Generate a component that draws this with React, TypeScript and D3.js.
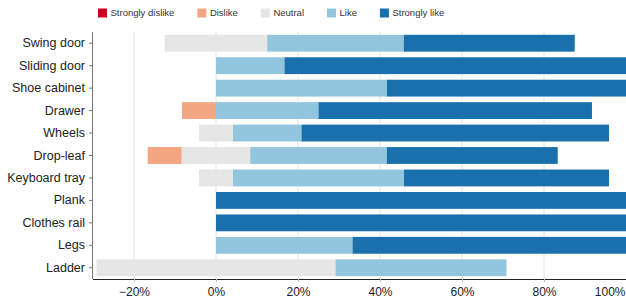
import { useEffect, useRef } from 'react'
import * as d3 from 'd3'

// Furniture feature preferences, % of respondents
const categories = [
  'Swing door',
  'Sliding door',
  'Shoe cabinet',
  'Drawer',
  'Wheels',
  'Drop-leaf',
  'Keyboard tray',
  'Plank',
  'Clothes rail',
  'Legs',
  'Ladder',
]
const levels = ['Strongly dislike', 'Dislike', 'Neutral', 'Like', 'Strongly like']
const colors = ['#ca0020', '#f4a582', '#e6e6e6', '#92c5de', '#1a70ad']

const stronglyDislike = [0, 0, 0, 0, 0, 0, 0, 0, 0, 0, 0]
const dislike = [0, 0, 0, 8.3, 0, 8.3, 0, 0, 0, 0, 0]
const neutral = [25, 0, 0, 0, 8.3, 16.7, 8.3, 0, 0, 0, 58.3]
const like = [33.3, 16.7, 41.7, 25, 16.7, 33.3, 41.7, 0, 0, 33.3, 41.7]
const stronglyLike = [41.7, 83.3, 58.3, 66.7, 75, 41.7, 50, 100, 100, 66.7, 0]

const xTicks = [-20, 0, 20, 40, 60, 80, 100]

const W = 626
const H = 302
const FONT = '"Liberation Sans", Arial, Helvetica, sans-serif'

export default function App() {
  const svgRef = useRef<SVGSVGElement>(null)

  useEffect(() => {
    if (!svgRef.current) return
    const svg = d3.select(svgRef.current)
    svg.selectAll('*').remove()

    const margin = { top: 32, right: 0, bottom: 23, left: 93 }
    const x = d3.scaleLinear().domain([-30, 100]).range([margin.left, W - margin.right])
    const y = d3
      .scaleBand<string>()
      .domain(categories)
      .range([margin.top, H - margin.bottom])
      .paddingInner(0.25)
      .paddingOuter(0.125)

    // grid
    svg
      .append('g')
      .selectAll('line')
      .data(xTicks.filter((t) => t < 100))
      .join('line')
      .attr('x1', (d) => x(d))
      .attr('x2', (d) => x(d))
      .attr('y1', margin.top)
      .attr('y2', H - margin.bottom)
      .attr('stroke', '#e3e3e3')
      .attr('stroke-width', 1)

    // stacked diverging segments
    const series = [stronglyDislike, dislike, neutral, like, stronglyLike]
    const segs: { cat: string; x0: number; x1: number; color: string }[] = []
    categories.forEach((cat, i) => {
      let pos = -(stronglyDislike[i] + dislike[i] + neutral[i] / 2)
      series.forEach((s, k) => {
        const v = s[i]
        if (v > 0) segs.push({ cat, x0: pos, x1: pos + v, color: colors[k] })
        pos += v
      })
    })

    svg
      .append('g')
      .selectAll('rect')
      .data(segs)
      .join('rect')
      .attr('x', (d) => x(d.x0))
      .attr('width', (d) => x(d.x1) - x(d.x0))
      .attr('y', (d) => y(d.cat)!)
      .attr('height', y.bandwidth())
      .attr('fill', (d) => d.color)

    // left axis
    const yAxis = svg
      .append('g')
      .attr('transform', `translate(${margin.left},0)`)
      .call(d3.axisLeft(y).tickSize(4).tickPadding(4))
    yAxis.select('.domain').attr('stroke', '#777').attr('d', `M-0.5,${margin.top}V${H - margin.bottom}`)
    yAxis.selectAll('.tick line').attr('stroke', '#777')
    yAxis
      .selectAll('text')
      .attr('fill', '#222')
      .style('font-size', '12.5px')
      .style('font-family', FONT)

    // bottom axis
    const xAxis = svg
      .append('g')
      .attr('transform', `translate(0,${H - margin.bottom})`)
      .call(
        d3
          .axisBottom(x)
          .tickValues(xTicks)
          .tickSize(3)
          .tickPadding(5)
          .tickFormat((d) => (+d < 0 ? '\u2212' : '') + Math.abs(+d) + '%')
      )
    xAxis.select('.domain').attr('stroke', '#222').attr('d', `M${margin.left},0.5H${W}`)
    xAxis.selectAll('.tick line').attr('stroke', '#bbb')
    xAxis
      .selectAll('text')
      .attr('fill', '#222')
      .style('font-size', '12px')
      .style('font-family', FONT)
    xAxis
      .selectAll<SVGTextElement, number>('text')
      .filter((d) => d === 100)
      .attr('text-anchor', 'end')
      .attr('x', -1)

    // legend
    const legend = svg.append('g').attr('transform', 'translate(98,0)')
    let lx = 0
    levels.forEach((name, i) => {
      const g = legend.append('g').attr('transform', `translate(${lx},0)`)
      g.append('rect').attr('x', 0).attr('y', 8.5).attr('width', 9).attr('height', 9).attr('fill', colors[i])
      const t = g
        .append('text')
        .attr('x', 12.5)
        .attr('y', 13)
        .attr('dy', '0.35em')
        .attr('fill', '#333')
        .style('font-size', '9.5px')
        .style('font-family', FONT)
        .text(name)
      const tw = (t.node() as SVGTextElement).getComputedTextLength()
      lx += 12.5 + tw + 23
    })
  }, [])

  return (
    <div style={{ width: W, height: H }}>
      <style>{'body{margin:0}'}</style>
      <svg ref={svgRef} width={W} height={H} style={{ display: 'block', background: '#fff' }} />
    </div>
  )
}
